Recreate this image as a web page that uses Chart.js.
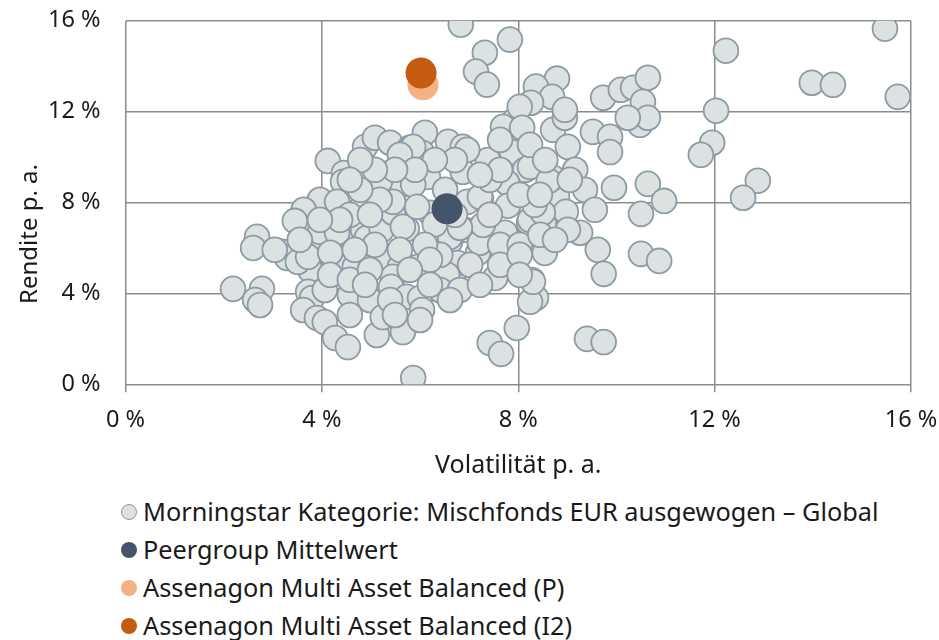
<!DOCTYPE html>
<html lang="de">
<head>
<meta charset="utf-8">
<title>Rendite / Volatilität</title>
<script src="https://cdn.jsdelivr.net/npm/chart.js@4.4.1/dist/chart.umd.min.js"></script>
<style>
  html, body { margin: 0; padding: 0; background: #fff; }
  body { width: 939px; height: 640px; position: relative; overflow: hidden; font-family: "Noto Sans", sans-serif; color: #1a1a1a; }
  #wrap { position: absolute; left: 0; top: 0; width: 939px; height: 490px; }
  #legende { position: absolute; left: 0; top: 492px; width: 939px; }
  .item { position: absolute; left: 121px; height: 38px; line-height: 38px; font-size: 25.3px; white-space: nowrap; }
  .item span.dot { display: inline-block; width: 16px; height: 16px; border-radius: 50%; box-sizing: border-box; vertical-align: middle; margin-right: 6px; position: relative; top: -2px; }
</style>
</head>
<body>
<div id="wrap"><canvas id="chart"></canvas></div>
<div id="legende"></div>
<script>
// Beschriftungen
const xTitel = 'Volatilität p. a.';
const yTitel = 'Rendite p. a.';
const achsenTicks = [0, 4, 8, 12, 16];

const reihenNamen = [
  'Morningstar Kategorie: Mischfonds EUR ausgewogen – Global',
  'Peergroup Mittelwert',
  'Assenagon Multi Asset Balanced (P)',
  'Assenagon Multi Asset Balanced (I2)'
];

// Morningstar Kategorie: Volatilität (x) und Rendite (y) in %
const kategorieVol = [
  6.83, 7.32, 7.83, 7.14, 7.36, 15.47, 12.23, 13.98, 14.41, 15.73,
  12.03, 11.95, 11.72, 12.88, 12.58, 9.73, 10.09, 10.34, 10.64, 10.54,
  10.48, 10.64, 10.23, 8.79, 8.36, 8.69, 8.26, 7.93, 8.06, 8.71,
  8.95, 9.01, 9.52, 9.87, 9.87, 7.87, 7.38, 8.14, 8.73, 9.95,
  10.64, 10.97, 10.50, 7.77, 7.79, 7.24, 8.79, 8.97, 8.52, 8.22,
  9.26, 9.62, 9.74, 10.50, 10.87, 8.54, 7.18, 7.83, 7.53, 8.28,
  8.36, 8.24, 7.97, 7.42, 7.65, 9.40, 9.74, 6.91, 6.81, 4.12,
  4.45, 4.43, 4.88, 5.08, 5.39, 6.10, 6.04, 5.79, 6.57, 6.87,
  6.87, 6.16, 5.55, 5.18, 5.86, 6.51, 3.96, 3.63, 3.45, 4.31,
  4.82, 5.65, 6.20, 6.96, 2.68, 2.60, 3.19, 3.29, 3.80, 4.00,
  4.43, 4.84, 4.92, 5.22, 5.73, 6.61, 4.23, 4.43, 4.67, 5.18,
  5.59, 5.96, 6.47, 6.77, 5.45, 3.76, 3.51, 2.19, 2.78, 2.64,
  2.74, 3.72, 3.80, 4.06, 4.57, 4.98, 5.41, 5.73, 6.00, 6.04,
  3.62, 3.90, 4.06, 4.27, 4.53, 5.12, 5.24, 5.65, 5.86, 3.96,
  4.31, 5.53, 3.72, 4.17, 5.75, 7.22, 7.69, 8.03, 8.08, 8.95,
  8.24, 8.24, 8.71, 5.45, 5.65, 5.94, 6.61, 7.16, 7.22, 8.50,
  9.01, 5.86, 6.96, 7.42, 6.55, 8.30, 7.73, 7.28, 6.81, 5.59,
  5.45, 8.33, 8.62, 6.30, 6.71, 7.42, 7.63, 8.03, 7.02, 6.41,
  6.10, 5.18, 4.78, 4.57, 5.08, 4.67, 5.59, 6.20, 5.79, 6.41,
  6.81, 6.61, 6.20, 7.22, 7.63, 8.03, 8.45, 8.03, 8.44, 7.63,
  7.22, 6.71, 6.30, 5.90, 5.49, 5.08, 4.78, 4.57, 4.98, 4.37,
  3.96, 3.55, 3.04, 4.17, 4.57, 4.98, 4.88, 5.39, 4.57, 5.49,
  6.00, 7.63, 8.24, 8.55, 9.16, 9.36, 9.05, 9.56, 8.75, 8.03
];
const kategorieRendite = [
  15.83, 14.59, 15.17, 13.76, 13.19, 15.65, 14.68, 13.27, 13.18, 12.65,
  12.04, 10.63, 10.10, 8.96, 8.21, 12.61, 12.96, 13.05, 13.49, 12.43,
  11.42, 11.73, 11.73, 13.45, 13.10, 12.65, 12.39, 11.63, 11.06, 11.20,
  11.73, 10.45, 11.11, 10.89, 10.22, 10.22, 9.87, 9.44, 9.00, 8.65,
  8.82, 8.07, 7.50, 8.87, 7.86, 8.16, 8.25, 7.59, 7.06, 7.11,
  6.67, 5.92, 4.86, 5.74, 5.43, 5.78, 5.78, 5.17, 4.68, 4.59,
  3.80, 3.63, 2.48, 1.82, 1.34, 2.00, 1.86, 6.80, 5.17, 9.83,
  9.30, 8.91, 10.45, 10.85, 10.63, 11.07, 10.19, 10.41, 10.67, 10.45,
  9.35, 9.13, 8.69, 8.91, 8.78, 8.56, 8.12, 7.68, 7.19, 8.03,
  7.81, 7.59, 7.55, 8.03, 6.49, 6.00, 5.83, 5.56, 6.14, 6.49,
  6.58, 6.80, 6.45, 6.80, 6.84, 6.27, 5.61, 5.39, 5.17, 5.48,
  5.17, 5.17, 4.73, 5.34, 4.73, 5.04, 5.39, 4.20, 4.20, 3.71,
  3.49, 4.07, 3.80, 4.15, 3.93, 3.71, 4.29, 3.85, 3.80, 3.27,
  3.27, 2.92, 2.74, 2.04, 1.64, 2.17, 2.96, 2.30, 0.28, 6.71,
  6.67, 7.68, 5.61, 5.79, 10.28, 8.25, 11.33, 12.21, 11.29, 12.08,
  9.57, 7.24, 9.09, 7.55, 6.93, 7.81, 6.49, 6.80, 6.23, 7.55,
  6.80, 10.45, 10.32, 9.00, 4.82, 4.51, 6.67, 7.02, 6.89, 10.10,
  8.03, 7.90, 8.95, 7.04, 7.46, 7.46, 6.14, 6.14, 5.26, 5.70,
  6.14, 8.12, 8.56, 7.46, 6.14, 5.92, 5.92, 5.48, 5.04, 4.15,
  4.15, 3.71, 4.38, 4.38, 5.26, 5.70, 6.58, 8.34, 8.34, 9.44,
  9.22, 9.87, 9.87, 9.44, 9.44, 9.44, 9.87, 9.00, 7.46, 7.24,
  7.24, 6.36, 5.92, 4.82, 4.60, 5.04, 4.38, 3.71, 3.05, 3.05,
  2.83, 10.76, 10.54, 9.87, 9.44, 8.56, 9.00, 7.68, 6.36, 4.82
];

// Einzelpunkte: [Volatilität, Rendite]
const peergroupPunkt = [6.55, 7.72];
const fondsP = [6.06, 13.18];
const fondsI2 = [6.02, 13.70];

const farben = {
  grauFill: '#dce1e1',
  grauRand: '#8d9ba5',
  peer: '#44546a',
  p: '#f4b183',
  i2: '#c55a11'
};

const kategoriePunkte = kategorieVol.map((v, i) => ({ x: v, y: kategorieRendite[i] }));
const schrift = '"Noto Sans", sans-serif';

// y-Achsentitel etwas unterhalb der Mitte, wie im Original
const yTitelPlugin = {
  id: 'yTitel',
  afterDraw(chart) {
    const ctx = chart.ctx;
    ctx.save();
    ctx.translate(30, 234);
    ctx.rotate(-Math.PI / 2);
    ctx.font = '24px ' + schrift;
    ctx.fillStyle = '#1a1a1a';
    ctx.textAlign = 'center';
    ctx.textBaseline = 'middle';
    ctx.fillText(yTitel, 0, 0);
    ctx.restore();
  }
};

const ctx = document.getElementById('chart').getContext('2d');
const chart = new Chart(ctx, {
  type: 'scatter',
  data: {
    datasets: [
      {
        label: reihenNamen[0],
        data: kategoriePunkte,
        backgroundColor: farben.grauFill,
        borderColor: farben.grauRand,
        borderWidth: 1.8,
        pointRadius: 12.4,
        pointHoverRadius: 12.4,
        order: 4
      },
      {
        label: reihenNamen[1],
        data: [{ x: peergroupPunkt[0], y: peergroupPunkt[1] }],
        backgroundColor: farben.peer,
        borderWidth: 0,
        pointRadius: 15.5,
        order: 3
      },
      {
        label: reihenNamen[2],
        data: [{ x: fondsP[0], y: fondsP[1] }],
        backgroundColor: farben.p,
        borderWidth: 0,
        pointRadius: 15.5,
        order: 2
      },
      {
        label: reihenNamen[3],
        data: [{ x: fondsI2[0], y: fondsI2[1] }],
        backgroundColor: farben.i2,
        borderWidth: 0,
        pointRadius: 15.5,
        order: 1
      }
    ]
  },
  options: {
    responsive: true,
    maintainAspectRatio: false,
    animation: false,
    layout: { autoPadding: false, padding: { top: 20.7, right: 28, left: 0, bottom: 0 } },
    plugins: {
      legend: { display: false },
      tooltip: { enabled: false }
    },
    scales: {
      x: {
        type: 'linear',
        min: 0,
        max: 16,
        afterBuildTicks: s => { s.ticks = achsenTicks.map(v => ({ value: v })); },
        afterFit: s => {
          s.height = 490 - 20.7 - 363.6;
          s.paddingLeft = 0;
          s.paddingRight = 0;
        },
        ticks: {
          callback: v => v + ' %',
          font: { family: schrift, size: 23.5 },
          color: '#1a1a1a',
          padding: 14,
          maxRotation: 0
        },
        grid: { color: '#8c8c8c', lineWidth: 1.5, tickLength: 8, drawTicks: true },
        border: { display: false },
        title: {
          display: true,
          text: xTitel,
          font: { family: schrift, size: 25 },
          color: '#1a1a1a',
          padding: { top: 0, bottom: 9 }
        }
      },
      y: {
        type: 'linear',
        min: 0,
        max: 16,
        afterBuildTicks: s => { s.ticks = achsenTicks.map(v => ({ value: v })); },
        afterFit: s => {
          s.width = 125.5;
          s.paddingTop = 0;
          s.paddingBottom = 0;
        },
        ticks: {
          callback: v => v + ' %',
          font: { family: schrift, size: 23.5 },
          color: '#1a1a1a',
          padding: 25
        },
        grid: { color: '#8c8c8c', lineWidth: 1.5, drawTicks: false },
        border: { display: false }
      }
    }
  },
  plugins: [yTitelPlugin]
});

// Legende als Liste untereinander
const legende = document.getElementById('legende');
const legendeFarben = [
  [farben.grauFill, farben.grauRand],
  [farben.peer, null],
  [farben.p, null],
  [farben.i2, null]
];
reihenNamen.forEach((name, i) => {
  const zeile = document.createElement('div');
  zeile.className = 'item';
  zeile.style.top = (i * 38) + 'px';
  const dot = document.createElement('span');
  dot.className = 'dot';
  dot.style.background = legendeFarben[i][0];
  if (legendeFarben[i][1]) dot.style.border = '1.5px solid ' + legendeFarben[i][1];
  zeile.appendChild(dot);
  zeile.appendChild(document.createTextNode(name));
  legende.appendChild(zeile);
});
</script>
</body>
</html>
